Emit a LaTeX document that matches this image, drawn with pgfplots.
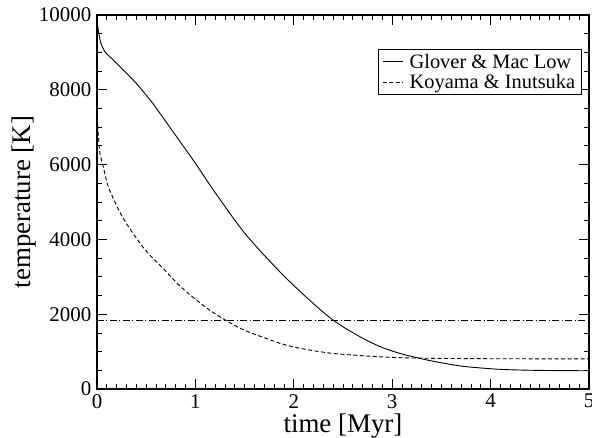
\documentclass[border=0pt]{standalone}
\usepackage{pgfplots}
\pgfplotsset{compat=1.18}
\usepackage{fontspec}
\setmainfont{Liberation Serif}
\begin{document}
\begin{tikzpicture}
\begin{axis}[
  scale only axis, width=492bp, height=374bp,
  xmin=0, xmax=5, ymin=0, ymax=10000,
  xtick={0,1,2,3,4,5}, ytick={0,2000,4000,6000,8000,10000},
  minor x tick num=9, minor y tick num=3,
  tick align=inside,
  major tick length=10bp, minor tick length=5bp,
  axis line style={line width=1.2bp},
  every tick/.style={black, line width=0.8bp},
  /pgf/number format/assume math mode=true,
  /pgf/number format/set thousands separator={},
  scaled y ticks=false,
  tick label style={font=\fontsize{21}{25}\selectfont, inner sep=1.5bp},
  xticklabel style={yshift=-3.5bp},
  yticklabel style={xshift=-4bp},
  label style={font=\fontsize{27}{32}\selectfont},
  xlabel={time [Myr]}, ylabel={temperature [K]},
  xlabel style={at={(axis description cs:0.5,-0.1176)}, anchor=base},
  ylabel style={at={(axis description cs:-0.1352,0.5)}, anchor=base},
  legend style={at={(axis description cs:0.986,0.909)}, anchor=north east,
    font=\fontsize{20.5}{23}\selectfont, draw=black, line width=0.8bp,
    nodes={inner sep=2.5bp}, inner xsep=4bp, inner ysep=2bp, row sep=0pt,
    column sep=4bp},
  legend cell align=left,
  legend image code/.code={\draw[#1] (0bp,0bp) -- (20bp,0bp);},
]
\addplot[black, line width=0.9bp, smooth, tension=0.5] coordinates {
(0.000,9850) (0.010,9650) (0.020,9480) (0.040,9250) (0.080,9020)
(0.180,8760) (0.320,8390) (0.420,8110) (0.560,7660) (0.670,7260)
(0.840,6630) (1.000,6035) (1.180,5330) (1.500,4170) (1.860,3130)
(2.150,2400) (2.400,1840) (2.650,1430) (2.880,1130) (3.080,950)
(3.280,820) (3.410,745) (3.600,655) (3.760,595) (4.100,525)
(4.500,497) (5.000,488)};
\addlegendentry{Glover \& Mac Low}
\addplot[black, line width=0.9bp, dash pattern=on 4bp off 2.5bp, smooth, tension=0.5] coordinates {
(0.000,7400) (0.013,6830) (0.030,6300) (0.064,5940) (0.115,5410)
(0.220,4790) (0.320,4340) (0.490,3720) (0.670,3230) (0.840,2760)
(1.000,2400) (1.150,2100) (1.300,1850) (1.500,1570) (1.860,1220)
(2.000,1120) (2.370,960) (2.880,860) (3.280,825) (4.000,810)
(5.000,805)};
\addlegendentry{Koyama \& Inutsuka}
\addplot[black, line width=0.9bp, dash pattern=on 7bp off 2.5bp on 1bp off 2.5bp, forget plot] coordinates {(0,1840) (5,1840)};
\end{axis}
\pgfresetboundingbox
\path[use as bounding box] ([shift={(-97bp,-49bp)}]current axis.south west) rectangle ([shift={(3bp,15bp)}]current axis.north east);
\end{tikzpicture}
\end{document}
